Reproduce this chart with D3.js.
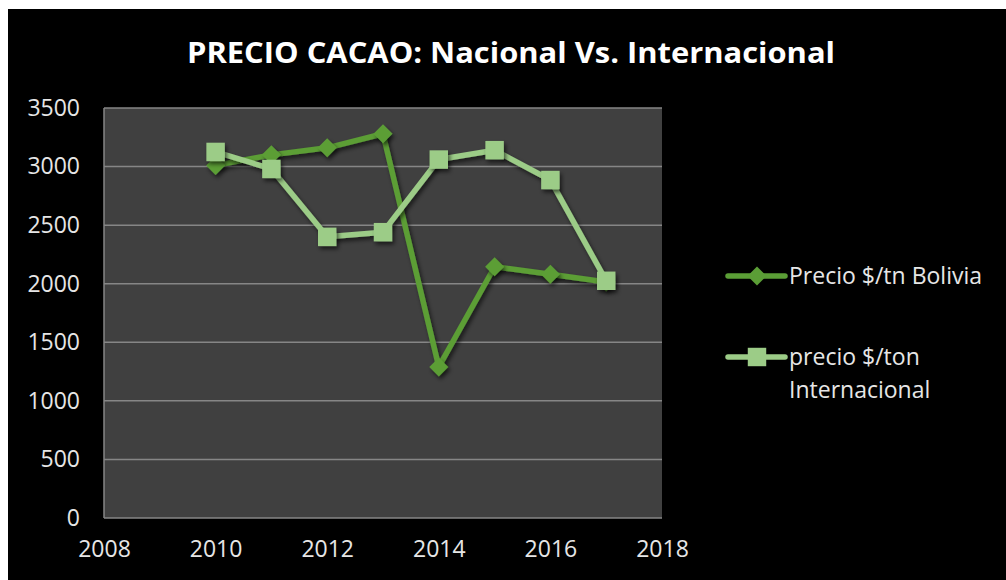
<!DOCTYPE html>
<html>
<head>
<meta charset="utf-8">
<script src="https://cdn.jsdelivr.net/npm/d3@7"></script>
<style>
  html, body { margin: 0; padding: 0; background: #ffffff; }
  svg { display: block; }
</style>
</head>
<body>
<div id="chart"></div>
<script>
// data
var years = [2010, 2011, 2012, 2013, 2014, 2015, 2016, 2017];
var bolivia = [3010, 3100, 3160, 3280, 1290, 2145, 2080, 2015];
var internacional = [3125, 2980, 2400, 2440, 3060, 3140, 2885, 2025];
var yTicks = [0, 500, 1000, 1500, 2000, 2500, 3000, 3500];
var xTicks = [2008, 2010, 2012, 2014, 2016, 2018];
var seriesNames = ["Precio $/tn Bolivia", "precio $/ton\nInternacional"];

var W = 1006, H = 580;
var dark = "#5b9e36", light = "#9ccc87";

var svg = d3.select("#chart").append("svg")
  .attr("width", W).attr("height", H);

var defs = svg.append("defs");
// little shadow under the markers
var f = defs.append("filter").attr("id", "shadow")
  .attr("x", "-50%").attr("y", "-50%").attr("width", "200%").attr("height", "200%");
f.append("feDropShadow")
  .attr("dx", 2).attr("dy", 3).attr("stdDeviation", 2)
  .attr("flood-color", "#000").attr("flood-opacity", 0.6);

// white strip top/left, black chart area
svg.append("rect").attr("width", W).attr("height", H).attr("fill", "#fff");
svg.append("rect").attr("x", 8).attr("y", 9).attr("width", W - 8).attr("height", H - 9).attr("fill", "#000");

var x = d3.scaleLinear().domain([2008, 2018]).range([104, 662]);
var y = d3.scaleLinear().domain([0, 3500]).range([518, 108]);

// plot area
svg.append("rect")
  .attr("x", x(2008)).attr("y", y(3500))
  .attr("width", x(2018) - x(2008)).attr("height", y(0) - y(3500))
  .attr("fill", "#404040");

// gridlines
svg.append("g").selectAll("line").data(yTicks).enter()
  .append("line")
  .attr("x1", x(2008)).attr("x2", x(2018))
  .attr("y1", function (d) { return y(d); })
  .attr("y2", function (d) { return y(d); })
  .attr("stroke", "#868686").attr("stroke-width", 1.5);

// axis line on the left
svg.append("line")
  .attr("x1", x(2008)).attr("x2", x(2008))
  .attr("y1", y(0)).attr("y2", y(3500))
  .attr("stroke", "#868686").attr("stroke-width", 1.5);

// y axis labels
var yAxis = d3.axisLeft(y).tickValues(yTicks).tickFormat(d3.format("d")).tickSize(0).tickPadding(24);
svg.append("g").attr("transform", "translate(" + x(2008) + ",0)")
  .call(yAxis)
  .call(function (g) { g.select(".domain").remove(); })
  .selectAll("text")
  .attr("fill", "#e6e6e6")
  .style("font-family", "'Open Sans', sans-serif")
  .style("font-size", "23px");

// x axis labels
var xAxis = d3.axisBottom(x).tickValues(xTicks).tickFormat(d3.format("d")).tickSize(0).tickPadding(23);
svg.append("g").attr("transform", "translate(0," + y(0) + ")")
  .call(xAxis)
  .call(function (g) { g.select(".domain").remove(); })
  .selectAll("text")
  .attr("fill", "#e6e6e6")
  .style("font-family", "'Open Sans', sans-serif")
  .style("font-size", "23px");

// title
svg.append("text")
  .attr("x", 511).attr("y", 63)
  .attr("text-anchor", "middle")
  .attr("fill", "#fff")
  .style("font-family", "'Open Sans', sans-serif")
  .style("font-weight", "bold")
  .style("font-size", "28px")
  .attr("textLength", 648).attr("lengthAdjust", "spacingAndGlyphs")
  .text("PRECIO CACAO: Nacional Vs. Internacional");

var line = d3.line()
  .x(function (d) { return x(d[0]); })
  .y(function (d) { return y(d[1]); });

var diamond = d3.symbol().type(d3.symbolDiamond2).size(230);
var square = d3.symbol().type(d3.symbolSquare).size(340);

function drawSeries(vals, color, sym) {
  var pts = years.map(function (yr, i) { return [yr, vals[i]]; });
  svg.append("path").datum(pts)
    .attr("d", line)
    .attr("fill", "none")
    .attr("stroke", color)
    .attr("stroke-width", 5.5)
    .attr("stroke-linejoin", "round")
    .attr("filter", "url(#shadow)");
  svg.append("g").selectAll("path").data(pts).enter()
    .append("path")
    .attr("d", sym)
    .attr("transform", function (d) { return "translate(" + x(d[0]) + "," + y(d[1]) + ")"; })
    .attr("fill", color)
    .attr("filter", "url(#shadow)");
}

drawSeries(bolivia, dark, diamond);
drawSeries(internacional, light, square);

// legend
var legend = [
  { name: seriesNames[0], color: dark, sym: diamond, y: 276 },
  { name: seriesNames[1], color: light, sym: square, y: 357 }
];
legend.forEach(function (l) {
  svg.append("line")
    .attr("x1", 728).attr("x2", 785)
    .attr("y1", l.y).attr("y2", l.y)
    .attr("stroke", l.color).attr("stroke-width", 5.5)
    .attr("stroke-linecap", "round");
  svg.append("path").attr("d", l.sym)
    .attr("transform", "translate(757," + l.y + ")")
    .attr("fill", l.color);
  var t = svg.append("text")
    .attr("x", 789).attr("y", l.y + 8)
    .attr("fill", "#e6e6e6")
    .style("font-family", "'Open Sans', sans-serif")
    .style("font-size", "23px");
  l.name.split("\n").forEach(function (s, i) {
    t.append("tspan").attr("x", 789).attr("dy", i ? 33 : 0).text(s);
  });
});
</script>
</body>
</html>
